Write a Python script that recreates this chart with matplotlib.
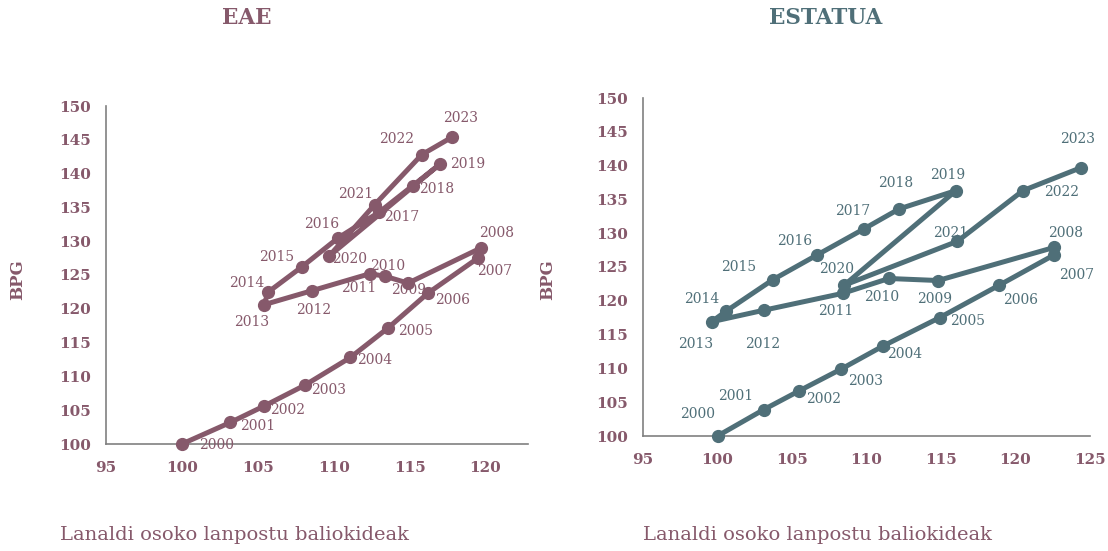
import matplotlib.pyplot as plt
import matplotlib as mpl

mpl.rcParams['font.family'] = ['DejaVu Serif']

# data
years = list(range(2000, 2024))

eae_x = [100.0, 103.2, 105.4, 108.1, 111.1, 113.6, 116.2, 119.5, 119.7, 114.9, 113.4, 112.4,
         108.6, 105.4, 105.7, 107.9, 110.3, 113.0, 115.2, 117.0, 109.7, 112.7, 115.8, 117.8]
eae_y = [100.0, 103.2, 105.6, 108.7, 112.8, 117.2, 122.3, 127.5, 129.0, 123.8, 124.8, 125.2,
         122.7, 120.6, 122.5, 126.2, 130.5, 134.3, 138.2, 141.4, 127.8, 135.4, 142.8, 145.4]

estatua_x = [100.0, 103.1, 105.5, 108.3, 111.1, 114.9, 118.9, 122.6, 122.6, 114.8, 111.5, 108.4,
             103.1, 99.6, 100.6, 103.7, 106.7, 109.8, 112.2, 116.0, 108.5, 116.1, 120.5, 124.4]
estatua_y = [100.0, 103.9, 106.7, 109.9, 113.3, 117.5, 122.3, 126.8, 127.9, 123.0, 123.3, 121.1,
             118.6, 116.9, 118.5, 123.1, 126.8, 130.6, 133.6, 136.3, 122.3, 128.8, 136.3, 139.7]

# label offsets in pixels (dx, dy) from each point
eae_off = [(35, -1), (27, -4), (24, -4), (24, -5), (24, -3), (27, -3), (25, -7), (17, -13),
           (16, 15), (0, -7), (2, 10), (-11, -14), (1, -19), (-12, -17), (-22, 9), (-25, 10),
           (-17, 14), (22, -5), (24, -3), (28, 0), (20, -3), (-19, 11), (-25, 16), (8, 19)]
estatua_off = [(-20, 22), (-28, 14), (24, -8), (24, -12), (22, -8), (28, -3), (21, -15), (22, -20),
               (11, 14), (-3, -18), (-7, -19), (-7, -18), (-1, -34), (-16, -22), (-25, 12), (-34, 13),
               (-23, 14), (-11, 18), (-4, 26), (-8, 16), (-8, 16), (-7, 8), (39, -1), (-3, 29)]

mauve = '#86596b'
slate = '#4f6f78'
axis_grey = '#808080'

fig = plt.figure(figsize=(11.08, 5.51), dpi=100)

panels = [
    dict(title='EAE', x=eae_x, y=eae_y, off=eae_off, col=mauve,
         rect=[106 / 1108, 107 / 551, 422 / 1108, 338 / 551], xlim=(95, 122.8),
         xticks=[95, 100, 105, 110, 115, 120], title_x=247 / 1108,
         ylab_x=18 / 1108, xlab_x=60 / 1108),
    dict(title='ESTATUA', x=estatua_x, y=estatua_y, off=estatua_off, col=slate,
         rect=[643 / 1108, 115 / 551, 447 / 1108, 338 / 551], xlim=(95, 125),
         xticks=[95, 100, 105, 110, 115, 120, 125], title_x=826 / 1108,
         ylab_x=548 / 1108, xlab_x=643 / 1108),
]

for p in panels:
    ax = fig.add_axes(p['rect'])
    ax.plot(p['x'], p['y'], color=p['col'], lw=3.6, marker='o', ms=8.5,
            solid_capstyle='round', solid_joinstyle='round', clip_on=False, zorder=3)
    for yr, xv, yv, (dx, dy) in zip(years, p['x'], p['y'], p['off']):
        ax.annotate(str(yr), (xv, yv), xytext=(dx, dy), textcoords='offset pixels',
                    ha='center', va='center', fontsize=10, color=p['col'], zorder=4)

    ax.set_xlim(*p['xlim'])
    ax.set_ylim(100, 150)
    ax.set_xticks(p['xticks'])
    ax.set_yticks(range(100, 151, 5))
    ax.tick_params(length=0, labelsize=11, labelcolor=mauve)
    ax.tick_params(axis='y', pad=11)
    ax.tick_params(axis='x', pad=12)
    for lbl in ax.get_xticklabels() + ax.get_yticklabels():
        lbl.set_fontweight('bold')
    for s in ['top', 'right']:
        ax.spines[s].set_visible(False)
    for s in ['left', 'bottom']:
        ax.spines[s].set_color(axis_grey)
        ax.spines[s].set_linewidth(1.2)

    fig.text(p['title_x'], 1 - 18 / 551, p['title'], ha='center', va='center',
             fontsize=15.5, fontweight='bold', color=p['col'])
    fig.text(p['ylab_x'], 1 - 280 / 551, 'BPG', rotation=90, ha='center', va='center',
             fontsize=12, fontweight='bold', color=mauve)
    fig.text(p['xlab_x'], 1 - 535 / 551, 'Lanaldi osoko lanpostu baliokideak',
             ha='left', va='center', fontsize=14, color=mauve)

plt.savefig('out.png', dpi=100)
